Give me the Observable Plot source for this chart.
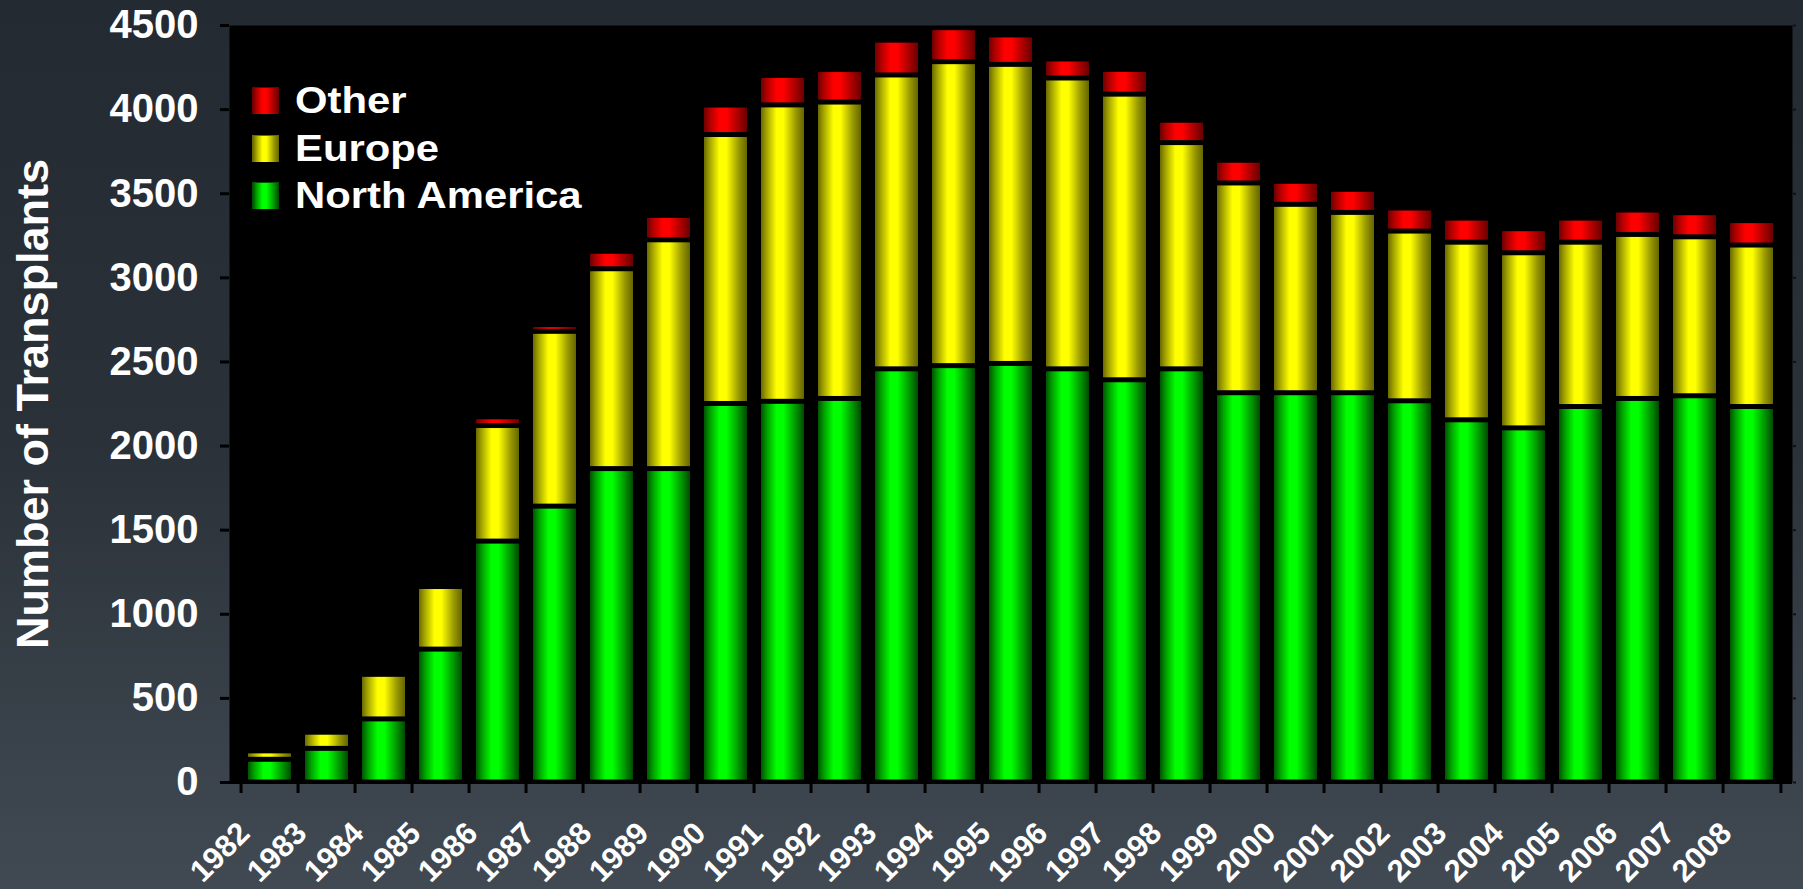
<!DOCTYPE html>
<html>
<head>
<meta charset="utf-8">
<script src="https://cdn.jsdelivr.net/npm/d3@7"></script>
<script src="https://cdn.jsdelivr.net/npm/@observablehq/plot@0.6"></script>
<style>
html, body { margin: 0; padding: 0; }
body {
  width: 1803px; height: 889px; overflow: hidden;
  background: linear-gradient(to bottom, #242a32 0%, #2a3139 50%, #414a53 100%);
  font-family: "Liberation Sans", Arial, sans-serif;
}
#chart { position: relative; width: 1803px; height: 889px; }
#legend { position: absolute; left: 252px; top: 77px; }
.row { position: relative; height: 47.5px; display: flex; align-items: center; }
.sw { width: 27px; height: 27px; box-sizing: border-box; border-top: 1px solid; border-left: 1px solid; margin-right: 16px; }
.lab { color: #fff; font-weight: bold; font-size: 37px; line-height: 1; transform: scaleX(1.13); transform-origin: left center; white-space: nowrap; }
</style>
</head>
<body>
<div id="chart"></div>
<script>
const years = [1982,1983,1984,1985,1986,1987,1988,1989,1990,1991,1992,1993,1994,1995,1996,1997,1998,1999,2000,2001,2002,2003,2004,2005,2006,2007,2008];
const northAmerica = [135,200,375,790,1432,1640,1863,1863,2250,2263,2280,2456,2475,2488,2456,2391,2456,2314,2314,2314,2266,2153,2105,2232,2280,2296,2232];
const europe = [50,96,265,372,687,1039,1188,1360,1599,1762,1762,1747,1807,1778,1729,1698,1345,1247,1120,1072,1009,1056,1041,977,975,945,960];
const other = [0,0,0,0,52,40,104,145,175,175,193,207,202,175,113,147,133,135,137,137,137,143,143,143,145,143,145];
const regions = ["North America", "Europe", "Other"];
const legendOrder = ["Other", "Europe", "North America"];
const yTicks = [0,500,1000,1500,2000,2500,3000,3500,4000,4500];
const yTitle = "Number of Transplants";

const gradients = {
  "North America": ["#005400", "#00a000", "#00ff00", "#00ff00", "#009000", "#004a00"],
  "Europe": ["#6a6a00", "#a8a800", "#ffff00", "#ffff00", "#959500", "#656500"],
  "Other": ["#6e0000", "#b00000", "#ff0000", "#ff0000", "#a00000", "#6a0000"]
};
const gradId = {"North America": "gG", "Europe": "gY", "Other": "gR"};
const stopsAt = [0, 0.14, 0.36, 0.52, 0.82, 1];

const rows = [];
years.forEach((yr, i) => {
  rows.push({year: String(yr), region: "North America", value: northAmerica[i]});
  rows.push({year: String(yr), region: "Europe", value: europe[i]});
  rows.push({year: String(yr), region: "Other", value: other[i]});
});
const data = rows.filter(d => d.value > 0);

const W = 1803, H = 889;
const mL = 229, mR = 11, mT = 25, mB = 107;
const step = (W - mL - mR) / years.length;

const defsMark = () => {
  const ns = "http://www.w3.org/2000/svg";
  const d = document.createElementNS(ns, "defs");
  let s = "";
  for (const r of regions) {
    s += `<linearGradient id="${gradId[r]}" x1="0" x2="1" y1="0" y2="0">` +
      gradients[r].map((c, k) => `<stop offset="${stopsAt[k]}" stop-color="${c}"/>`).join("") +
      `</linearGradient>`;
  }
  d.innerHTML = s;
  return d;
};

const chart = Plot.plot({
  width: W, height: H,
  marginLeft: mL, marginRight: mR, marginTop: mT, marginBottom: mB,
  style: {background: "transparent", color: "white", fontFamily: "'Liberation Sans', Arial, sans-serif", overflow: "visible"},
  x: {domain: years.map(String), paddingInner: 0.25, paddingOuter: 0.125, label: null},
  y: {domain: [0, 4500], label: null},
  color: {domain: regions, range: regions.map(r => `url(#${gradId[r]})`)},
  marks: [
    defsMark,
    Plot.frame({fill: "#000", stroke: null}),
    Plot.barY(data, {x: "year", y: "value", fill: "region", order: regions, insetTop: 2.5, insetBottom: 2.5}),
    Plot.ruleY([0], {stroke: "#000", strokeWidth: 3}),
    Plot.axisY({ticks: yTicks, tickFormat: d => String(d), tickSize: 9, tickPadding: 22, stroke: "#000", strokeWidth: 3, fill: "#fff", fontSize: 40, fontWeight: "bold", label: null}),
    Plot.axisY({anchor: "right", ticks: yTicks, tickSize: 3, tickFormat: () => "", stroke: "#111", strokeWidth: 2, label: null}),
    Plot.axisX({tickSize: 11, tickFormat: () => "", stroke: "#000", strokeWidth: 3, dx: -step / 2, label: null}),
    Plot.axisX({ticks: [String(years[years.length - 1])], tickSize: 11, tickFormat: () => "", stroke: "#000", strokeWidth: 3, dx: step / 2, label: null}),
    Plot.text(years.map(String), {x: d => d, frameAnchor: "bottom", dy: 37, dx: -34, rotate: -45, textAnchor: "end", lineAnchor: "top", fontSize: 31, fontWeight: "bold", fill: "#fff"}),
    Plot.text([yTitle], {frameAnchor: "left", rotate: -90, dx: -196, fontSize: 45, fontWeight: "bold", fill: "#fff", textAnchor: "middle", lineAnchor: "middle"})
  ]
});

const host = document.getElementById("chart");
host.appendChild(chart);

const legend = document.createElement("div");
legend.id = "legend";
const legendFill = r => {
  const g = gradients[r];
  return `linear-gradient(to right, ${g.map((c, k) => `${c} ${stopsAt[k] * 100}%`).join(", ")})`;
};
for (const r of legendOrder) {
  const row = document.createElement("div");
  row.className = "row";
  const sw = document.createElement("div");
  sw.className = "sw";
  sw.style.background = legendFill(r);
  sw.style.borderColor = gradients[r][0];
  const lab = document.createElement("div");
  lab.className = "lab";
  lab.textContent = r;
  row.appendChild(sw);
  row.appendChild(lab);
  legend.appendChild(row);
}
host.appendChild(legend);
</script>
</body>
</html>
